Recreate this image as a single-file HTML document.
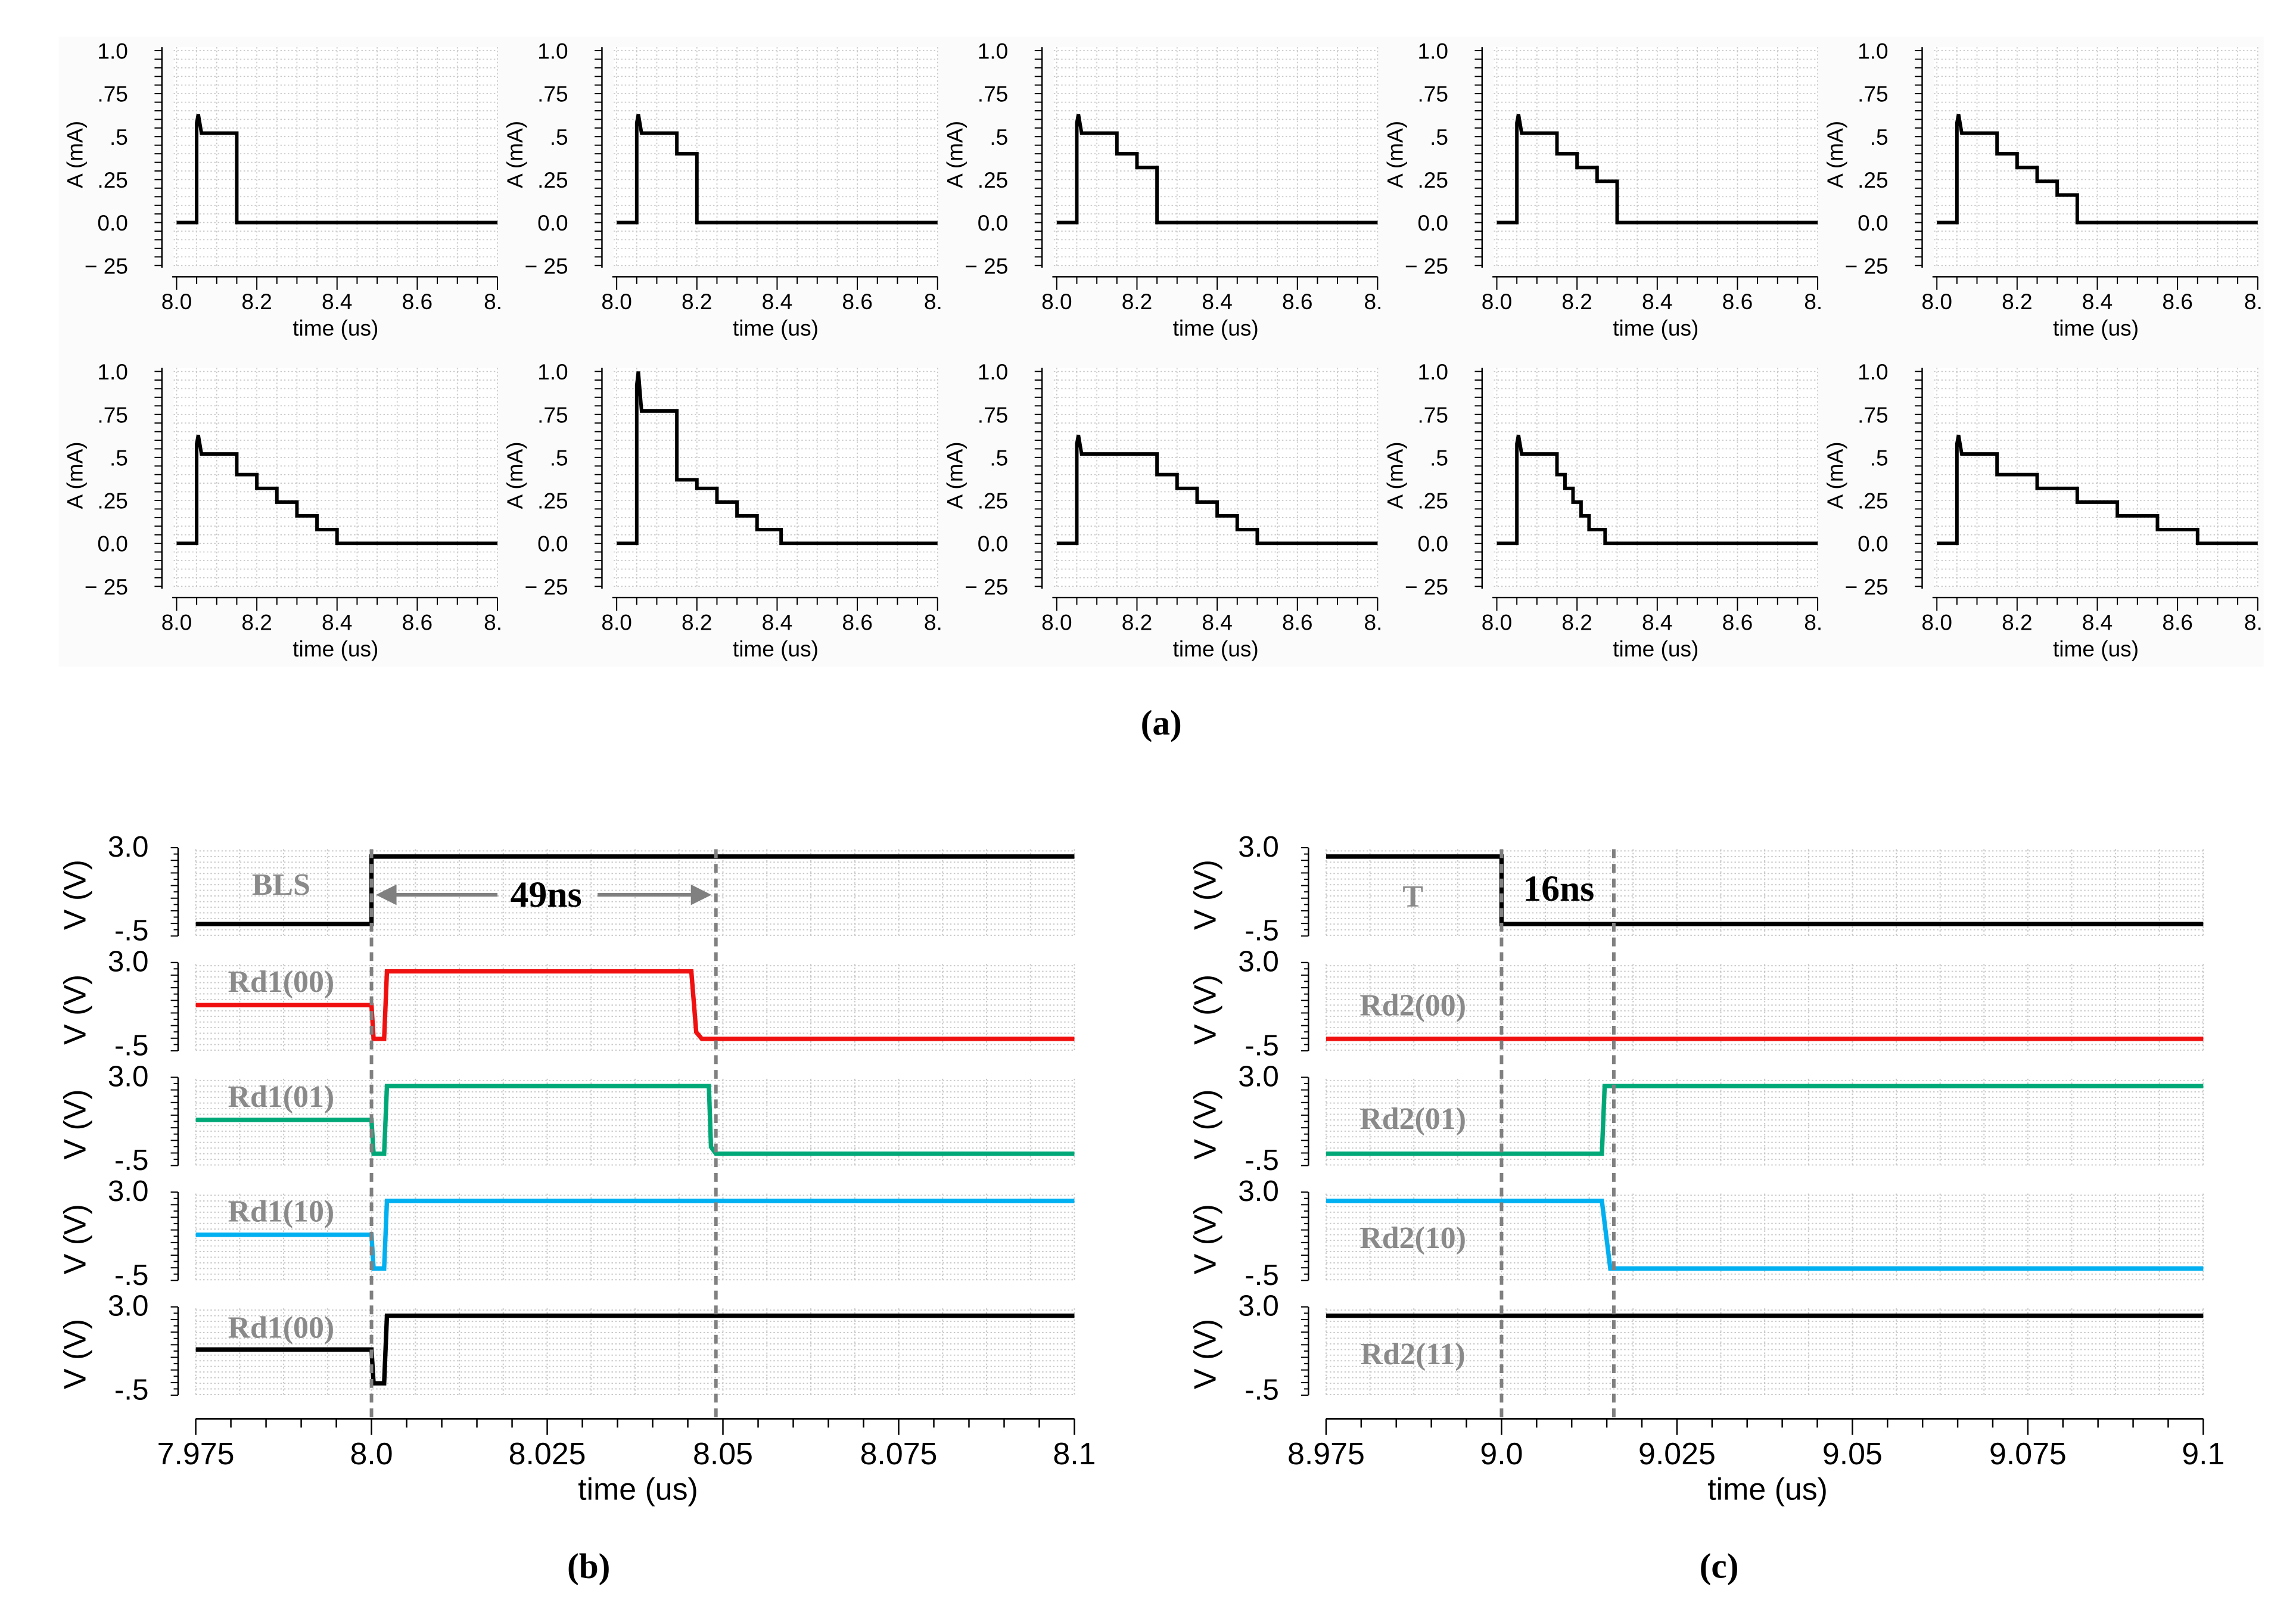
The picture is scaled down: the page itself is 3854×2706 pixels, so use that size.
<!DOCTYPE html>
<html><head><meta charset="utf-8"><style>
html,body{margin:0;padding:0;background:#fff;}
svg{display:block;}
</style></head><body>
<svg id="fig" xmlns="http://www.w3.org/2000/svg" width="3854" height="2706" viewBox="0 0 1560 1095.3">
<rect x="0" y="0" width="1560" height="1096" fill="#fff"/>
<rect x="40" y="25" width="1498" height="428" fill="#fbfbfb"/>
<g id="gA"></g>
<g id="gB"></g>
<g id="gC"></g>
<text x="789" y="499" font-family="Liberation Serif, serif" font-weight="bold" font-size="24" text-anchor="middle">(a)</text>
<text x="400" y="1072" font-family="Liberation Serif, serif" font-weight="bold" font-size="24" text-anchor="middle">(b)</text>
<text x="1168" y="1072" font-family="Liberation Serif, serif" font-weight="bold" font-size="24" text-anchor="middle">(c)</text>
</svg>
<script>
// ---- Panel (a) data ----
const aSpikes = [0.63, 0.63, 0.63, 0.63, 0.63, 0.63, 1.0, 0.63, 0.63, 0.63];
const aStepTimes = [
  [8.05, 8.15],
  [8.05, 8.15, 8.20],
  [8.05, 8.15, 8.20, 8.25],
  [8.05, 8.15, 8.20, 8.25, 8.30],
  [8.05, 8.15, 8.20, 8.25, 8.30, 8.35],
  [8.05, 8.15, 8.20, 8.25, 8.30, 8.35, 8.40],
  [8.05, 8.15, 8.20, 8.25, 8.30, 8.35, 8.41],
  [8.05, 8.25, 8.30, 8.35, 8.40, 8.45, 8.50],
  [8.05, 8.15, 8.17, 8.19, 8.21, 8.23, 8.27],
  [8.05, 8.15, 8.25, 8.35, 8.45, 8.55, 8.65]
];
const aStepLevels = [
  [0.52],
  [0.52, 0.40],
  [0.52, 0.40, 0.32],
  [0.52, 0.40, 0.32, 0.24],
  [0.52, 0.40, 0.32, 0.24, 0.16],
  [0.52, 0.40, 0.32, 0.24, 0.16, 0.08],
  [0.77, 0.37, 0.32, 0.24, 0.16, 0.08],
  [0.52, 0.40, 0.32, 0.24, 0.16, 0.08],
  [0.52, 0.40, 0.32, 0.24, 0.16, 0.08],
  [0.52, 0.40, 0.32, 0.24, 0.16, 0.08]
];
const aXTicks = ["8.0", "8.2", "8.4", "8.6", "8."];
const aYTicks = ["1.0", ".75", ".5", ".25", "0.0", "\u2212 25"];
const aYTickVals = [1.0, 0.75, 0.5, 0.25, 0.0, -0.25];

// ---- Panel (b) data ----
const bLabels = ["BLS", "Rd1(00)", "Rd1(01)", "Rd1(10)", "Rd1(00)"];
const bLabelY = [27, 15, 15, 15, 16];
const bColors = ["#000", "#f01010", "#00a878", "#00b0f0", "#000"];
const bTimes = [
  [7.975, 8.0, 8.0, 8.1],
  [7.975, 8.0, 8.0003, 8.0018, 8.0022, 8.0455, 8.0462, 8.047, 8.1],
  [7.975, 8.0, 8.0003, 8.0018, 8.0022, 8.048, 8.0483, 8.049, 8.1],
  [7.975, 8.0, 8.0003, 8.0018, 8.0022, 8.1],
  [7.975, 8.0, 8.0003, 8.0018, 8.0022, 8.1]
];
const bValues = [
  [0, 0, 3.0, 3.0],
  [1.5, 1.5, 0, 0, 3.0, 3.0, 0.3, 0, 0],
  [1.5, 1.5, 0, 0, 3.0, 3.0, 0.3, 0, 0],
  [1.5, 1.5, 0, 0, 3.0, 3.0],
  [1.5, 1.5, 0, 0, 3.0, 3.0]
];
const bXTicks = ["7.975", "8.0", "8.025", "8.05", "8.075", "8.1"];
const bXTickVals = [7.975, 8.0, 8.025, 8.05, 8.075, 8.1];
const bMarkers = [8.0, 8.049];

// ---- Panel (c) data ----
const cLabels = ["T", "Rd2(00)", "Rd2(01)", "Rd2(10)", "Rd2(11)"];
const cLabelY = [35, 31, 30, 33, 34];
const cColors = ["#000", "#f01010", "#00a878", "#00b0f0", "#000"];
const cTimes = [
  [8.975, 9.0, 9.0, 9.1],
  [8.975, 9.1],
  [8.975, 9.0143, 9.0147, 9.1],
  [8.975, 9.0143, 9.0155, 9.1],
  [8.975, 9.1]
];
const cValues = [
  [3.0, 3.0, 0, 0],
  [0, 0],
  [0, 0, 3.0, 3.0],
  [3.0, 3.0, 0, 0],
  [3.0, 3.0]
];
const cXTicks = ["8.975", "9.0", "9.025", "9.05", "9.075", "9.1"];
const cXTickVals = [8.975, 9.0, 9.025, 9.05, 9.075, 9.1];
const cMarkers = [9.0, 9.016];

const NS = "http://www.w3.org/2000/svg";
function mk(parent, tag, attrs, text) {
  const e = document.createElementNS(NS, tag);
  for (const k in attrs) e.setAttribute(k, attrs[k]);
  if (text !== undefined) e.textContent = text;
  parent.appendChild(e);
  return e;
}
const SANS = "Liberation Sans, sans-serif";

// ===== Panel (a) =====
const gA = document.getElementById('gA');
const colDx = [0, 299, 598, 897, 1196];
const rowDy = [0, 218];
for (let p = 0; p < 10; p++) {
  const dx = colDx[p % 5], dy = rowDy[Math.floor(p / 5)];
  const X = t => dx + 120 + (t - 8.0) * 272.5;
  const Y = v => dy + 151.2 - v * 116.8;
  const g = mk(gA, 'g', {});
  
  
  const bg = mk(g, 'rect', { x: dx + 118, y: dy + 32, width: 220, height: 149, fill: '#fff' });
  
  
  for (let t = 8.0; t <= 8.801; t += 0.05) {
    const gl = mk(g, 'line', { x1: X(t), x2: X(t), y1: dy + 32, y2: dy + 181, stroke: '#c8c8c8', 'stroke-width': 0.7, 'stroke-dasharray': '1 1.5' });
    
    
  }
  for (let v = -0.25; v <= 1.001; v += 0.05) {
    const gl = mk(g, 'line', { x1: dx + 118, x2: dx + 338, y1: Y(v), y2: Y(v), stroke: '#c8c8c8', 'stroke-width': 0.7, 'stroke-dasharray': '1 1.5' });
    
    
  }
  const ya = mk(g, 'line', { x1: dx + 110, x2: dx + 110, y1: dy + 32, y2: dy + 182, stroke: '#000', 'stroke-width': 1 });
  
  
  for (let v = -0.25; v <= 1.001; v += 0.05) {
    mk(g, 'line', { x1: dx + 105, x2: dx + 110, y1: Y(v), y2: Y(v), stroke: '#000', 'stroke-width': 0.8 });
  }
  aYTicks.forEach((s, i) => {
    const t = mk(g, 'text', { x: dx + 87, y: Y(aYTickVals[i]) + 5.5, 'font-family': SANS, 'font-size': 15, 'text-anchor': 'end' }, s);
    
    
  });
  const yt = mk(g, 'text', { x: 0, y: 0, 'font-family': SANS, 'font-size': 15, 'text-anchor': 'middle', transform: `translate(${dx + 56},${dy + 105}) rotate(-90)` }, 'A (mA)');
  
  
  const xa = mk(g, 'line', { x1: dx + 117, x2: dx + 338, y1: dy + 188, y2: dy + 188, stroke: '#000', 'stroke-width': 1 });
  
  
  let k = 0;
  for (let t = 8.0; t <= 8.801; t += 0.05, k++) {
    mk(g, 'line', { x1: X(t), x2: X(t), y1: dy + 188, y2: dy + (k % 4 === 0 ? 197 : 193), stroke: '#000', 'stroke-width': 0.8 });
  }
  aXTicks.forEach((s, i) => {
    const t = mk(g, 'text', { x: X(8.0 + 0.2 * i) - (i === 4 ? 3 : 0), y: dy + 210, 'font-family': SANS, 'font-size': 15, 'text-anchor': 'middle' }, s);
    
    
  });
  const xt = mk(g, 'text', { x: dx + 228, y: dy + 228, 'font-family': SANS, 'font-size': 15, 'text-anchor': 'middle' }, 'time (us)');
  
  
  const times = aStepTimes[p], lv = aStepLevels[p];
  let d = `M${X(8.0)},${Y(0)} L${X(times[0])},${Y(0)} L${X(times[0])},${Y(aSpikes[p] * 0.92)} L${X(times[0] + 0.004)},${Y(aSpikes[p])} L${X(times[0] + 0.012)},${Y(lv[0])}`;
  for (let i = 0; i < lv.length; i++) {
    const end = times[i + 1];
    d += ` L${X(end)},${Y(lv[i])}`;
    d += ` L${X(end)},${Y(i + 1 < lv.length ? lv[i + 1] : 0)}`;
  }
  d += ` L${X(8.8)},${Y(0)}`;
  const tr = mk(g, 'path', { d: d, fill: 'none', stroke: '#000', 'stroke-width': 2.4, 'stroke-linejoin': 'miter' });
  
  
}

// ===== Panels (b) and (c) =====
function drawStack(gid, x0, x1, t0, t1, labels, labelYs, colors, times, values, xTicks, xTickVals, markers, labelX, prefix) {
  const g = document.getElementById(gid);
  const X = t => x0 + (t - t0) / (t1 - t0) * (x1 - x0);
  for (let k = 0; k < 5; k++) {
    const top = 574 + 78 * k;
    const Y = v => top + 8 + (3.0 - v) * 15.3;
    const sg = mk(g, 'g', {});
    
    
    for (let t = t0; t <= t1 + 1e-9; t += (t1 - t0) / 20) {
      const gl = mk(sg, 'line', { x1: X(t), x2: X(t), y1: top + 3, y2: top + 63, stroke: '#c8c8c8', 'stroke-width': 0.8, 'stroke-dasharray': '1 1.5' });
      
      
    }
    for (let v = -0.5; v <= 3.3; v += 0.25) {
      const gl = mk(sg, 'line', { x1: x0, x2: x1, y1: Y(v), y2: Y(v), stroke: '#c8c8c8', 'stroke-width': 0.8, 'stroke-dasharray': '1 1.5' });
      
      
    }
    const ya = mk(sg, 'line', { x1: x0 - 12, x2: x0 - 12, y1: top + 2, y2: top + 62, stroke: '#000', 'stroke-width': 1 });
    
    
    for (let j = 0; j <= 14; j++) {
      const yy = top + 2 + j * 60 / 14;
      mk(sg, 'line', { x1: x0 - (j % 2 ? 15 : 17), x2: x0 - 12, y1: yy, y2: yy, stroke: '#000', 'stroke-width': 0.8 });
    }
    const l1 = mk(sg, 'text', { x: x0 - 32, y: top + 8, 'font-family': SANS, 'font-size': 20, 'text-anchor': 'end' }, '3.0');
    
    
    const l2 = mk(sg, 'text', { x: x0 - 32, y: top + 65, 'font-family': SANS, 'font-size': 20, 'text-anchor': 'end' }, '-.5');
    
    
    const yt = mk(sg, 'text', { x: 0, y: 0, 'font-family': SANS, 'font-size': 21, 'text-anchor': 'middle', transform: `translate(${x0 - 75},${top + 34}) rotate(-90)` }, 'V (V)');
    
    
    const sl = mk(sg, 'text', { x: labelX, y: top + labelYs[k] + 7, 'font-family': 'Liberation Serif, serif', 'font-weight': 'bold', 'font-size': 21, fill: '#8a8a8a', 'text-anchor': 'middle' }, labels[k]);
    
    
    const pts = times[k].map((t, i) => X(t) + ',' + Y(values[k][i])).join(' ');
    const tr = mk(sg, 'polyline', { points: pts, fill: 'none', stroke: colors[k], 'stroke-width': 3 });
    
    
  }
  const xa = mk(g, 'line', { x1: x0, x2: x1, y1: 964, y2: 964, stroke: '#000', 'stroke-width': 1.2 });
  
  
  for (let j = 0; j <= 25; j++) {
    const t = t0 + j * (t1 - t0) / 25;
    mk(g, 'line', { x1: X(t), x2: X(t), y1: 964, y2: j % 5 === 0 ? 975 : 970, stroke: '#000', 'stroke-width': 1 });
  }
  xTicks.forEach((s, i) => {
    const t = mk(g, 'text', { x: X(xTickVals[i]), y: 995, 'font-family': SANS, 'font-size': 21, 'text-anchor': 'middle' }, s);
    
    
  });
  const xt = mk(g, 'text', { x: (x0 + x1) / 2 + 2, y: 1019, 'font-family': SANS, 'font-size': 21, 'text-anchor': 'middle' }, 'time (us)');
  
  
  markers.forEach(m => {
    const ml = mk(g, 'line', { x1: X(m), x2: X(m), y1: 577, y2: 963, stroke: '#808080', 'stroke-width': 2.4, 'stroke-dasharray': '6 4' });
    
    
  });
  return X;
}
const XB = drawStack('gB', 133, 730, 7.975, 8.1, bLabels, bLabelY, bColors, bTimes, bValues, bXTicks, bXTickVals, bMarkers, 191, 'rd1');
const XC = drawStack('gC', 901, 1497, 8.975, 9.1, cLabels, cLabelY, cColors, cTimes, cValues, cXTicks, cXTickVals, cMarkers, 960, 'rd2');

const gB = document.getElementById('gB');
const xa1 = XB(bMarkers[0]) + 3, xa2 = XB(bMarkers[1]) - 3;
const arr = mk(gB, 'g', {});


mk(arr, 'line', { x1: xa1 + 10, x2: 338, y1: 608, y2: 608, stroke: '#808080', 'stroke-width': 2.5 });
mk(arr, 'line', { x1: 406, x2: xa2 - 10, y1: 608, y2: 608, stroke: '#808080', 'stroke-width': 2.5 });
mk(arr, 'polygon', { points: `${xa1},608 ${xa1 + 14},601 ${xa1 + 14},615`, fill: '#808080' });
mk(arr, 'polygon', { points: `${xa2},608 ${xa2 - 14},601 ${xa2 - 14},615`, fill: '#808080' });
const t49 = mk(gB, 'text', { x: 371, y: 616, 'font-family': 'Liberation Serif, serif', 'font-weight': 'bold', 'font-size': 25, 'text-anchor': 'middle' }, '49ns');


const gC = document.getElementById('gC');
const t16 = mk(gC, 'text', { x: 1059, y: 612, 'font-family': 'Liberation Serif, serif', 'font-weight': 'bold', 'font-size': 25, 'text-anchor': 'middle' }, '16ns');


</script>
</body></html>
